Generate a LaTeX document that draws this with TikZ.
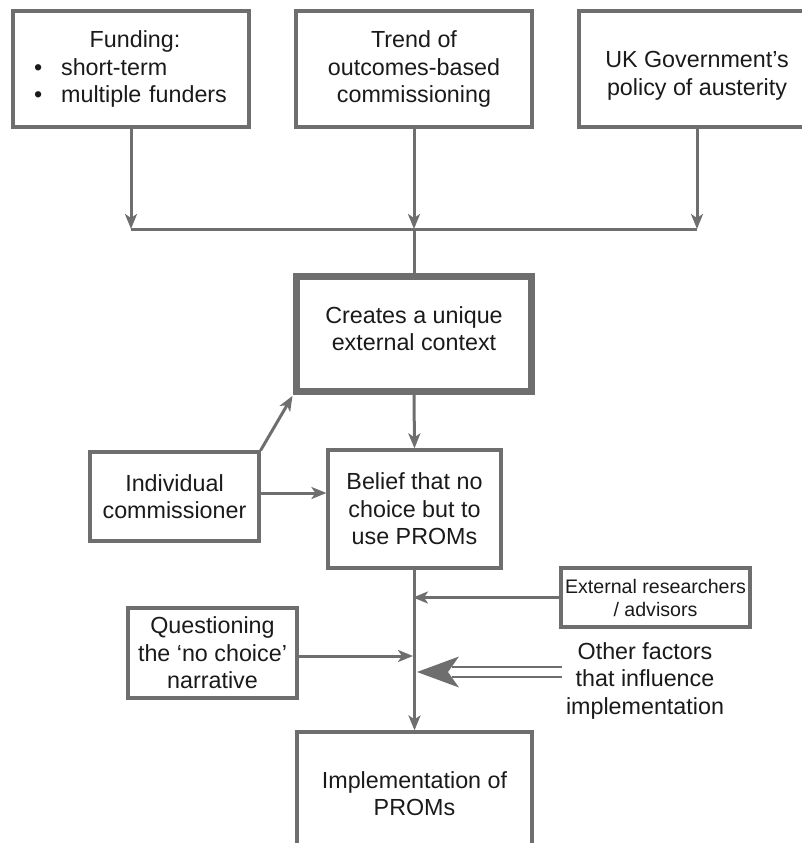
\documentclass[tikz,border=0pt]{standalone}
\usepackage{fontspec}
\setmainfont{Liberation Sans}
\usetikzlibrary{arrows.meta}
\definecolor{linegray}{HTML}{6E6E6E}
\definecolor{ink}{HTML}{1A1A1A}
\begin{document}
\begin{tikzpicture}[x=1pt,y=-1pt,
  every node/.style={text=ink, font=\fontsize{23.3}{27.5}\selectfont, inner sep=0pt},
  box/.style={draw=linegray, line width=3.2pt, align=center},
  ctxbox/.style={draw=linegray, line width=7pt, align=center},
  txt/.style={align=center},
  small/.style={font=\fontsize{19.6}{23}\selectfont},
  conn/.style={draw=linegray, line width=3pt},
  arr/.style={conn, -{Stealth[length=15pt, width=12pt, inset=4pt]}}]
\useasboundingbox (0,0) rectangle (802,843);
\clip (0,0) rectangle (802,843);

% top row of causes
\node[box, minimum width=236, minimum height=116, text width=194pt, align=left] (fund) at (131,69)
  {\makebox[194pt]{\hspace{8pt}Funding:}\\
   \textbullet\hspace{19pt}short-term\\
   \textbullet\hspace{19pt}multiple funders};
\node[box, minimum width=236, minimum height=116] (trend) at (414,69)
  {Trend of\\outcomes-based\\commissioning};
\node[box, minimum width=236, minimum height=116] (uk) at (697,69) {};
\node[txt] (ukt) at (697,76) {UK Government’s\\policy of austerity};

% central chain
\node[ctxbox, minimum width=235, minimum height=115] (ctx) at (414,334) {};
\node[txt] (ctxt) at (414,328.5) {Creates a unique\\external context};
\node[box, minimum width=173, minimum height=118] (bel) at (414.5,509)
  {Belief that no\\choice but to\\use PROMs};
\node[box, minimum width=169, minimum height=89] (ind) at (174.5,496.5)
  {Individual\\commissioner};
\node[box, minimum width=189, minimum height=59, small] (ext) at (655.5,597.5)
  {External researchers\\/ advisors};
\node[box, minimum width=169, minimum height=90] (que) at (212.5,653)
  {Questioning\\the ‘no choice’\\narrative};
\node[txt, font=\fontsize{23.3}{27.5}\selectfont] (oth) at (645,680.5)
  {Other factors\\that influence\\implementation};
\node[box, minimum width=235, minimum height=140] (imp) at (414.5,802) {};
\node[txt] (impt) at (414.5,793.5) {Implementation of\\PROMs};

% merge of the three causes
\coordinate (j2) at (414,229);
\coordinate (j1) at (fund.south |- j2);
\coordinate (j3) at (uk.south |- j2);
\draw[arr] (fund.south) -- (j1);
\draw[arr] (trend.south) -- (j2);
\draw[arr] (uk.south) -- (j3);
\draw[conn] (j1) -- (j3);
\draw[conn] (j2) -- (ctx.north);

% arrows around the central chain
\draw[arr] (ctx.south) -- (bel.north);
\draw[arr, shorten >=1pt] (ind.north east) -- (ctx.south west);
\draw[arr] ([yshift=3.5pt]ind.east) -- ([yshift=3.5pt]ind.east -| bel.west);
\draw[arr] (bel.south) -- (imp.north);
\draw[arr, shorten >=-1.5pt] (ext.west) -- (ext.west -| bel.south);
\draw[arr, shorten >=1.5pt] ([yshift=-3pt]que.east) -- ([yshift=-3pt]que.east -| bel.south);

% wide double arrow for the other factors
\coordinate (dbl) at (562,672);
\coordinate (tip) at ([xshift=2.5pt]dbl -| bel.south);
\draw[linegray, line width=2.6pt, double=white, double distance=7.4pt]
  (dbl) -- ([xshift=35pt]tip);
\fill[linegray] (tip) -- ++(42,-15.5) -- ++(-11,15.5) -- ++(11,15.5) -- cycle;
\end{tikzpicture}
\end{document}
